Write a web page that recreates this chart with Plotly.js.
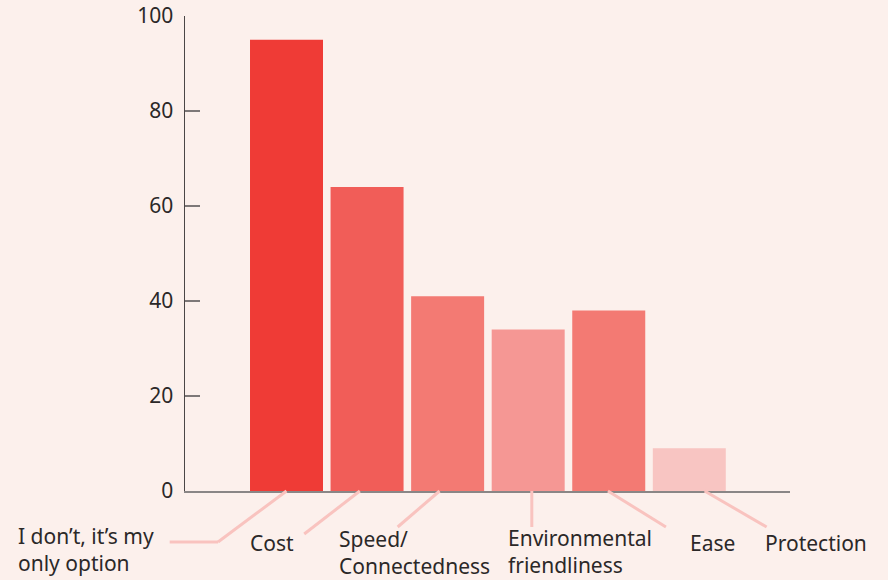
<!DOCTYPE html>
<html>
<head>
<meta charset="utf-8">
<script src="https://cdn.plot.ly/plotly-3.0.1.min.js"></script>
<style>
  html, body { margin: 0; padding: 0; background: #fcf0ec; }
  #chart { width: 888px; height: 580px; }
</style>
</head>
<body>
<div id="chart"></div>
<script>
// Reasons given for the choice (share of respondents, %)
const categories = [
  "I don\u2019t, it\u2019s my<br>only option",
  "Cost",
  "Speed/<br>Connectedness",
  "Environmental<br>friendliness",
  "Ease",
  "Protection"
];
const values = [95, 64, 41, 34, 38, 9];
const barColors = ["#ef3b36", "#f15d58", "#f37a73", "#f59794", "#f37a73", "#f8c5c2"];
const yTicks = [0, 20, 40, 60, 80, 100];

// Plot geometry
const W = 888, H = 580;
const margin = { l: 185, r: 98, t: 16, b: 89 };
const xRange = [-1.26, 6.25];
const yRange = [0, 100];
const plotW = W - margin.l - margin.r;
const plotH = H - margin.t - margin.b;
const textFont = { family: "Noto Sans, sans-serif", size: 21, color: "#2b2828" };

// Leader-line layout per category: start/end offset (category units from bar centre),
// drop below the axis (px), optional horizontal tail end (category units)
const leaders = [
  { s: 0.00, e: -0.85, drop: 51, tail: -1.45 },
  { s: -0.09, e: -0.78, drop: 43 },
  { s: -0.10, e: -0.62, drop: 36 },
  { s: 0.045, e: 0.045, drop: 36 },
  { s: -0.01, e: 0.71, drop: 36 },
  { s: 0.19, e: 0.96, drop: 36 }
];
// Label placement: left edge (category units from bar centre), vertical centre below axis (px)
const labelPos = [
  { dx: -3.36, dy: 58 },
  { dx: -1.48, dy: 52 },
  { dx: -1.37, dy: 61 },
  { dx: -0.27, dy: 60 },
  { dx: 0.98, dy: 52 },
  { dx: 0.92, dy: 52 }
];

const px = v => (v - xRange[0]) / (xRange[1] - xRange[0]);
const py = v => (v - yRange[0]) / (yRange[1] - yRange[0]);
const dropToPaper = d => py(0) - d / plotH;

const idx = categories.map((_, i) => i);
const leaderColor = "#f9c3bf";

const shapes = [];
leaders.forEach((l, i) => {
  const x0 = px(i + l.s), x1 = px(i + l.e);
  const y0 = py(0), y1 = dropToPaper(l.drop);
  shapes.push({ type: "line", xref: "paper", yref: "paper", x0: x0, y0: y0, x1: x1, y1: y1,
    line: { color: leaderColor, width: 3 } });
  if (l.tail !== undefined) {
    shapes.push({ type: "line", xref: "paper", yref: "paper", x0: x1, y0: y1, x1: px(i + l.tail), y1: y1,
      line: { color: leaderColor, width: 3 } });
  }
});

const annotations = categories.map((c, i) => ({
  text: c,
  xref: "paper", yref: "paper",
  x: px(i + labelPos[i].dx),
  y: dropToPaper(labelPos[i].dy),
  xanchor: "left", yanchor: "middle", align: "left",
  showarrow: false,
  font: textFont
}));

const trace = {
  type: "bar",
  x: idx,
  y: values,
  marker: { color: barColors, line: { width: 0 } },
  hoverinfo: "skip"
};

const layout = {
  width: W, height: H,
  margin: margin,
  paper_bgcolor: "#fcf0ec",
  plot_bgcolor: "#fcf0ec",
  showlegend: false,
  bargap: 0.094,
  xaxis: {
    range: xRange,
    showgrid: false, zeroline: false,
    showline: true, linecolor: "#8a8686", linewidth: 1.5,
    ticks: "inside", ticklen: 10, tickwidth: 1.5, tickcolor: "#8a8686",
    tickmode: "array", tickvals: [xRange[1] - 0.001], showticklabels: false,
    fixedrange: true
  },
  yaxis: {
    range: yRange,
    showgrid: false, zeroline: false,
    showline: true, linecolor: "#4a4646", linewidth: 1.5,
    ticks: "inside", ticklen: 15, tickwidth: 1.5, tickcolor: "#7d7878",
    tickmode: "array", tickvals: yTicks, ticktext: yTicks.map(String),
    tickfont: textFont,
    ticklabelstandoff: 6,
    fixedrange: true
  },
  shapes: shapes,
  annotations: annotations
};

Plotly.newPlot("chart", [trace], layout, { displayModeBar: false, staticPlot: true });
</script>
</body>
</html>
